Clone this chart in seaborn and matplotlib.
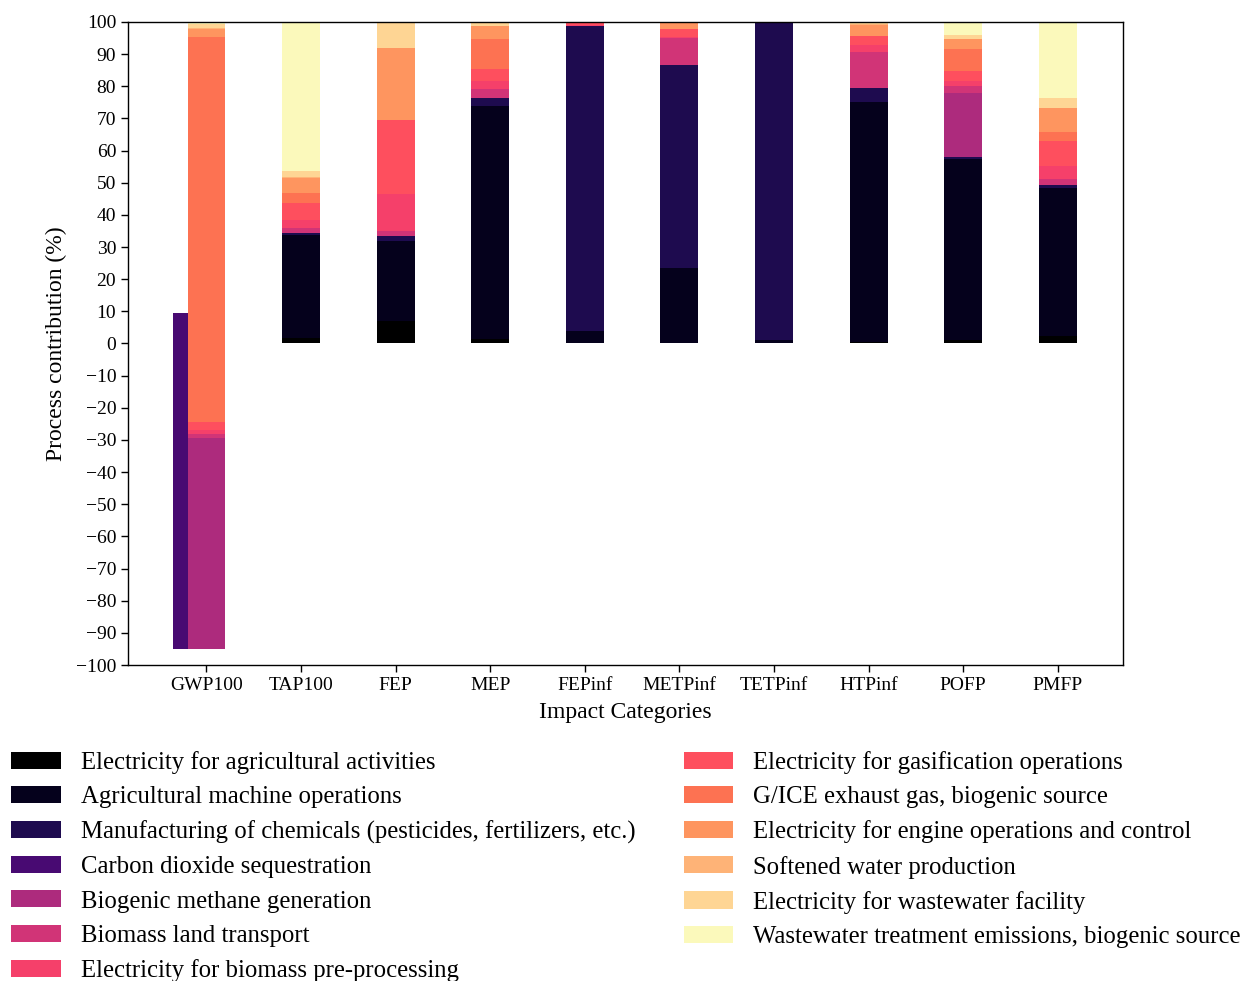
import numpy as np
import matplotlib
matplotlib.use("Agg")
import matplotlib.pyplot as plt
import seaborn as sns

# impact categories on the x axis
categories = ['GWP100', 'TAP100', 'FEP', 'MEP', 'FEPinf', 'METPinf',
              'TETPinf', 'HTPinf', 'POFP', 'PMFP']

processes = [
    'Electricity for agricultural activities',
    'Agricultural machine operations',
    'Manufacturing of chemicals (pesticides, fertilizers, etc.)',
    'Carbon dioxide sequestration',
    'Biogenic methane generation',
    'Biomass land transport',
    'Electricity for biomass pre-processing',
    'Electricity for gasification operations',
    'G/ICE exhaust gas, biogenic source',
    'Electricity for engine operations and control',
    'Softened water production',
    'Electricity for wastewater facility',
    'Wastewater treatment emissions, biogenic source',
]

# process contribution (%) per category
elec_agri     = [0.5, 1.6, 7.1, 1.3, 0.0, 0.0, 0.0, 0.4, 1.1, 2.3]
agri_machine  = [7.0, 32.1, 24.9, 72.7, 4.0, 23.6, 1.0, 74.8, 56.3, 46.2]
chemicals     = [1.9, 0.8, 1.4, 2.3, 94.6, 63.0, 98.6, 4.2, 0.5, 0.7]
co2_seq       = [-104.5, 0.0, 0.0, 0.0, 0.0, 0.0, 0.0, 0.0, 0.0, 0.0]
biomethane    = [65.6, 0.0, 0.0, 0.0, 0.0, 0.0, 0.0, 0.0, 19.9, 0.0]
land_transp   = [1.4, 1.3, 1.7, 2.9, 0.0, 8.3, 0.0, 11.4, 2.3, 2.1]
elec_preproc  = [1.2, 2.6, 11.4, 2.5, 0.5, 0.4, 0.0, 2.0, 1.5, 3.9]
elec_gasif    = [2.6, 5.4, 23.0, 3.7, 0.5, 2.4, 0.0, 2.8, 3.1, 7.8]
gice_exhaust  = [119.7, 3.1, 0.0, 9.2, 0.0, 0.0, 0.0, 0.0, 6.9, 2.9]
elec_engine   = [2.4, 4.6, 22.3, 4.0, 0.0, 1.9, 0.0, 3.5, 3.0, 7.2]
softened_wat  = [0.3, 0.4, 0.0, 0.2, 0.0, 0.1, 0.0, 0.2, 0.2, 0.2]
elec_wastew   = [1.2, 1.7, 7.8, 1.0, 0.0, 0.1, 0.0, 0.5, 1.3, 2.9]
wastew_emis   = [0.3, 46.0, 0.0, 0.0, 0.0, 0.0, 0.0, 0.0, 3.7, 23.6]

layers = [elec_agri, agri_machine, chemicals, co2_seq, biomethane, land_transp,
          elec_preproc, elec_gasif, gice_exhaust, elec_engine, softened_wat,
          elec_wastew, wastew_emis]

colors = ['#000000', '#05011c', '#1e0b4f', '#480a72', '#ad2b7d', '#d13477',
          '#f5406a', '#fe4f5e', '#fd7252', '#fe955f', '#feb377', '#fed594',
          '#fbf9bb']

sns.set_style("ticks")
plt.rcParams['font.family'] = ['Liberation Serif', 'DejaVu Serif']
plt.rcParams['axes.edgecolor'] = 'black'
plt.rcParams['axes.labelcolor'] = 'black'
plt.rcParams['text.color'] = 'black'
plt.rcParams['xtick.color'] = 'black'
plt.rcParams['ytick.color'] = 'black'

fig = plt.figure(figsize=(12.47, 9.81), dpi=100)
ax = fig.add_axes([0.1026, 0.3221, 0.798, 0.6555])

bottom = np.zeros(len(categories))
for name, vals, col in zip(processes, layers, colors):
    vals = np.array(vals)
    sns.barplot(x=categories, y=vals, bottom=bottom, color=col, width=0.4,
                linewidth=0, saturation=1, label=name, ax=ax)
    bottom = bottom + vals

# the sequestration bar is drawn a bit to the left so it stays visible
for p in ax.containers[3]:
    p.set_x(p.get_x() - 0.15)

ax.set_xlim(-0.83, 9.69)
ax.set_ylim(-100, 100)
ax.set_yticks(np.arange(-100, 101, 10))
ax.tick_params(axis='both', labelsize=14, length=5, width=1)
ax.set_xlabel('Impact Categories', fontsize=17, labelpad=6)
ax.set_ylabel('Process contribution (%)', fontsize=17, labelpad=6)
for s in ax.spines.values():
    s.set_linewidth(1.0)
    s.set_visible(True)

handles = list(ax.containers)
if ax.get_legend() is not None:
    ax.get_legend().remove()
fig.legend(handles, processes, ncol=2, loc='upper left',
           bbox_to_anchor=(0.009, 1 - 751 / 981), frameon=False,
           fontsize=17.8, handlelength=2.0, handleheight=0.69,
           handletextpad=0.82, columnspacing=1.95, labelspacing=0.49,
           borderpad=0, borderaxespad=0)

fig.savefig('out.png', dpi=100)
